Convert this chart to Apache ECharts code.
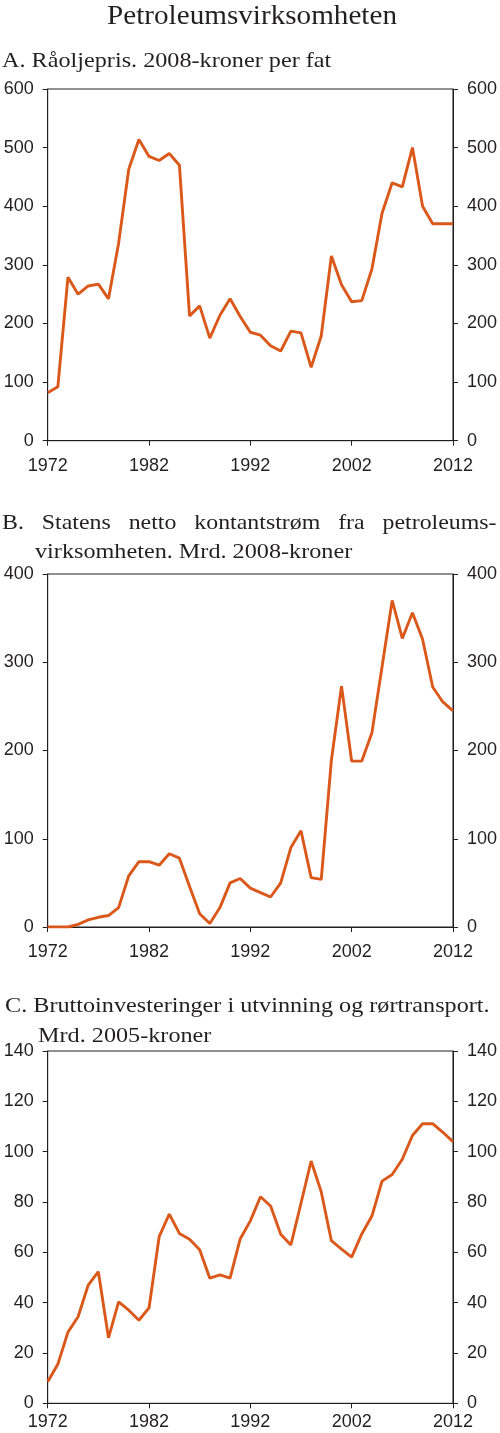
<!DOCTYPE html>
<html>
<head>
<meta charset="utf-8">
<script src="https://cdn.jsdelivr.net/npm/echarts@6/dist/echarts.min.js"></script>
<style>
  html, body { margin: 0; padding: 0; background: #fff; }
  #main { width: 500px; height: 1433px; }
</style>
</head>
<body>
<div id="main"></div>
<script>
// år på x-aksen
var years = ['1972','1973','1974','1975','1976','1977','1978','1979','1980','1981',
             '1982','1983','1984','1985','1986','1987','1988','1989','1990','1991',
             '1992','1993','1994','1995','1996','1997','1998','1999','2000','2001',
             '2002','2003','2004','2005','2006','2007','2008','2009','2010','2011',
             '2012'];

// A. Råoljepris, 2008-kroner per fat
var oilPrice = [82, 92, 279, 250, 264, 267, 242, 337, 463, 514,
                485, 478, 490, 470, 213, 230, 175, 214, 242, 212,
                185, 180, 162, 153, 187, 184, 125, 179, 315, 266,
                237, 239, 293, 388, 440, 433, 500, 400, 370, 370,
                370];

// B. Statens netto kontantstrøm, mrd. 2008-kroner
var cashFlow = [0, 0, 0, 3, 8, 11, 13, 22, 58, 74,
                74, 70, 83, 78, 46, 15, 4, 22, 50, 55,
                44, 39, 34, 50, 90, 109, 56, 54, 189, 273,
                188, 188, 220, 295, 370, 327, 356, 326, 272, 255,
                245];

// C. Bruttoinvesteringer, mrd. 2005-kroner
var investment = [8.6, 15.5, 28.3, 34.4, 47, 52.3, 26, 40.3, 37, 33,
                  37.9, 66.2, 75.2, 67.5, 65.2, 61, 49.7, 51, 49.7, 65.3,
                  72.5, 82.1, 78.4, 67.2, 62.9, 79.5, 96.3, 84, 64.6, 61.3,
                  58.1, 67.3, 74.4, 88.3, 90.9, 97, 106.4, 111.1, 111.1, 107.7,
                  104];

// akseskala per panel: [max, intervall]
var scaleA = [600, 100];
var scaleB = [400, 100];
var scaleC = [140, 20];

var ink = '#231f20';
var lineColor = '#d9581a';
var sans = 'Liberation Sans, Arial, sans-serif';
var serif = 'Liberation Serif, Times New Roman, serif';

var myChart = echarts.init(document.getElementById('main'));

function grid(top, height, right) {
    return {
        left: 47.7, right: right, top: top, height: height,
        show: true, borderColor: ink, borderWidth: 1,
        containLabel: false
    };
}

function xAxis(idx, margin) {
    return {
        type: 'category', gridIndex: idx, data: years, boundaryGap: false,
        axisLine: { lineStyle: { color: ink, width: 1 } },
        axisTick: { show: true, interval: 9, length: 5, lineStyle: { color: ink } },
        axisLabel: { interval: 9, fontSize: 18, color: ink, fontFamily: sans, margin: margin },
        splitLine: { show: false }
    };
}

function yAxis(idx, scale, pos) {
    return {
        type: 'value', gridIndex: idx, position: pos,
        min: 0, max: scale[0], interval: scale[1],
        axisLine: { show: true, lineStyle: { color: ink, width: 1 } },
        axisTick: { show: true, length: 5, lineStyle: { color: ink } },
        axisLabel: { fontSize: 18, color: ink, fontFamily: sans, margin: 14 },
        splitLine: { show: false }
    };
}

function series(idx, data) {
    return {
        type: 'line', xAxisIndex: idx, yAxisIndex: idx * 2, data: data,
        symbol: 'none', smooth: false,
        lineStyle: { color: lineColor, width: 2.9 }
    };
}

// teksten i originalen er litt strukket i bredden
function label(text, x, y, size, sx, align) {
    return {
        type: 'text', x: x, y: y, scaleX: sx, silent: true,
        style: {
            text: text, fill: ink, font: size + 'px ' + serif,
            textAlign: align || 'left', textVerticalAlign: 'middle'
        }
    };
}

var option = {
    animation: false,
    backgroundColor: '#fff',
    grid: [
        grid(89, 351.7, 46),
        grid(574, 353, 46),
        grid(1051, 352.3, 43)
    ],
    xAxis: [xAxis(0, 16), xAxis(1, 16), xAxis(2, 10)],
    yAxis: [
        yAxis(0, scaleA, 'left'), yAxis(0, scaleA, 'right'),
        yAxis(1, scaleB, 'left'), yAxis(1, scaleB, 'right'),
        yAxis(2, scaleC, 'left'), yAxis(2, scaleC, 'right')
    ],
    series: [
        series(0, oilPrice),
        series(1, cashFlow),
        series(2, investment)
    ],
    graphic: [
        label('Petroleumsvirksomheten', 252, 17, 27, 1.08, 'center'),
        label('A. Råoljepris. 2008-kroner per fat', 2, 61, 22, 1.1),
        label('B.   Statens   netto   kontantstrøm   fra   petroleums-', 2, 523.5, 22, 1.085),
        label('virksomheten. Mrd. 2008-kroner', 35, 552, 22, 1.1),
        label('C. Bruttoinvesteringer i utvinning og rørtransport.', 5, 1006, 22, 1.1),
        label('Mrd. 2005-kroner', 38, 1036.5, 22, 1.1)
    ]
};

myChart.setOption(option);
</script>
</body>
</html>
